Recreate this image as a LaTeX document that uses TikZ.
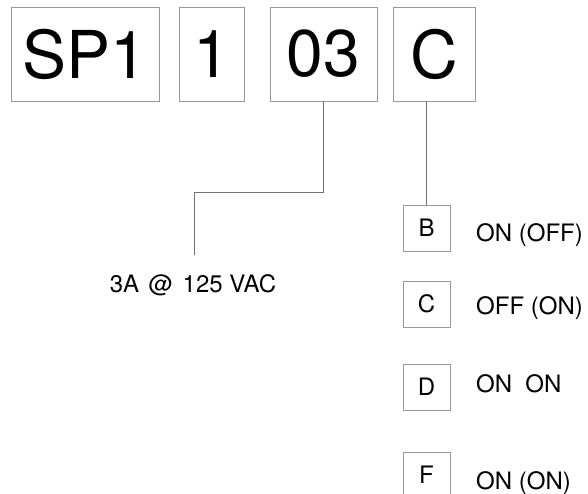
\documentclass[tikz,border=0pt]{standalone}
\usepackage{fontspec}
\setmainfont{TeX Gyre Heros}
\usetikzlibrary{positioning}
\tikzset{
  codebox/.style={draw=black!40, line width=0.8pt, minimum height=94pt, inner sep=0pt,
    font=\fontsize{66}{66}\selectfont},
  optbox/.style={draw=black!40, line width=0.8pt, minimum width=47pt, minimum height=46pt,
    inner sep=0pt, font=\fontsize{24}{24}\selectfont},
  optlabel/.style={anchor=base west, inner sep=0pt, font=\fontsize{24}{24}\selectfont},
  lead/.style={draw=black!55, line width=0.8pt}
}

\begin{document}
\begin{tikzpicture}[x=1pt,y=-1pt]
  \useasboundingbox (0,0) rectangle (588,494);

  % part number
  \node[codebox, minimum width=148pt] (series) at (85,54) {SP1};
  \node[codebox, minimum width=65pt] (poles) at (211.5,54) {1};
  \node[codebox, minimum width=107pt] (rating) at (323.5,54) {03};
  \node[codebox, minimum width=82pt] (action) at (434,54) {C};

  % current rating
  \node[anchor=base, inner sep=0pt, font=\fontsize{24}{24}\selectfont] (amps) at (193,292) {3A\hspace{0.4em}@\hspace{0.4em}125 VAC};
  \coordinate (ampstop) at (194,255);
  \draw[lead] (rating.south) -- ++(0,91) -| (ampstop);

  % switch action
  \node[optbox] (optB) at (426.5,228) {B};
  \node[optlabel] (lblB) at (476,241) {ON (OFF)};
  \node[optbox] (optC) at (426.5,304) {C};
  \node[optlabel] (lblC) at (476,314) {OFF (ON)};
  \node[optbox] (optD) at (426.5,387) {D};
  \node[optlabel] (lblD) at (476,392) {ON\hspace{0.55em}ON};
  \node[optbox] (optF) at (426.5,475) {F};
  \node[optlabel] (lblF) at (476,489) {ON (ON)};
  \draw[lead] (optB.north) -- (optB.north |- action.south);
\end{tikzpicture}
\end{document}
